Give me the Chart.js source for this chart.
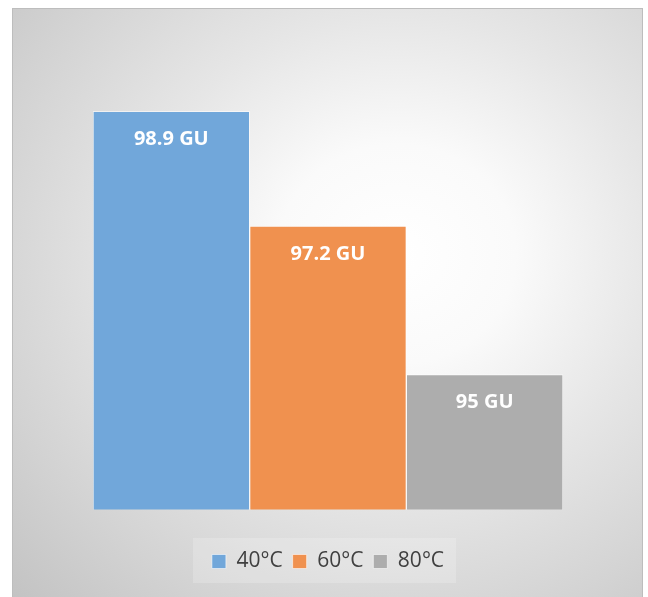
<!DOCTYPE html>
<html>
<head>
<meta charset="utf-8">
<script src="https://cdn.jsdelivr.net/npm/chart.js@4.4.1/dist/chart.umd.min.js"></script>
<style>
  body { margin: 0; background: #fff; overflow: hidden; }
  #box {
    position: absolute; left: 12px; top: 8px; width: 631px; height: 600px;
    box-sizing: border-box; border: 1px solid #bdbdbd;
    background: radial-gradient(ellipse farthest-corner at 61% 41%, #ffffff 0%, #fafafa 22%, #e6e6e6 48%, #d3d3d3 76%, #c2c2c2 100%);
  }
  canvas { display: block; }
</style>
</head>
<body>
<div id="box"><canvas id="gloss" width="629" height="598"></canvas></div>
<script>
// data
const categories = ['Gloss'];
const seriesLabels = ['40°C', '60°C', '80°C'];
const glossValues = [98.9, 97.2, 95];
const seriesColors = ['#71a7da', '#f0914f', '#adadad'];
const valueUnit = 'GU';

const ctx = document.getElementById('gloss').getContext('2d');

// white value text inside the top of every bar
const barLabels = {
  id: 'barLabels',
  afterDatasetsDraw(chart) {
    const c = chart.ctx;
    c.save();
    c.font = 'bold 20px "Open Sans"';
    c.fillStyle = '#ffffff';
    c.textAlign = 'center';
    c.textBaseline = 'middle';
    chart.data.datasets.forEach((ds, i) => {
      const bar = chart.getDatasetMeta(i).data[0];
      c.fillText(ds.data[0] + ' ' + valueUnit, bar.x, bar.y + 28);
    });
    c.restore();
  }
};

// faint box behind the legend
const legendBack = {
  id: 'legendBack',
  beforeDraw(chart) {
    const boxes = chart.legend.legendHitBoxes;
    if (!boxes.length) return;
    const left = boxes[0].left - 19;
    const right = boxes[boxes.length - 1].left + boxes[boxes.length - 1].width + 12;
    const c = chart.ctx;
    c.save();
    c.fillStyle = 'rgba(255,255,255,0.2)';
    c.fillRect(left, 529, right - left, 45);
    c.restore();
  }
};

const chart = new Chart(ctx, {
  type: 'bar',
  data: {
    labels: categories,
    datasets: seriesLabels.map((label, i) => ({
      label: label,
      data: [glossValues[i]],
      backgroundColor: seriesColors[i],
      borderColor: 'rgba(255,255,255,0.55)',
      borderWidth: 1,
      barPercentage: 1,
      categoryPercentage: 1
    }))
  },
  options: {
    responsive: false,
    animation: false,
    devicePixelRatio: 1,
    layout: { padding: { top: 28, left: 80, right: 79, bottom: 25 } },
    scales: {
      x: {
        display: true,
        grid: { display: false, drawTicks: false },
        border: { display: false },
        ticks: { display: false },
        afterFit(scale) { scale.height = 31.5; }
      },
      y: { display: false, min: 93, max: 100 }
    },
    plugins: {
      legend: {
        position: 'bottom',
        labels: {
          boxWidth: 14,
          boxHeight: 14,
          padding: 10,
          color: '#404040',
          font: { family: '"Open Sans"', size: 21 }
        }
      },
      tooltip: { enabled: false }
    }
  },
  plugins: [barLabels, legendBack]
});
</script>
</body>
</html>
